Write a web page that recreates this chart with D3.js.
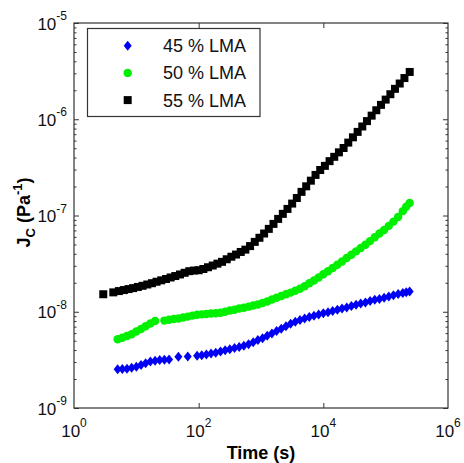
<!DOCTYPE html>
<html>
<head>
<meta charset="utf-8">
<script src="https://d3js.org/d3.v7.min.js"></script>
<style>
  body { margin: 0; background: #fff; }
  text { font-family: "Liberation Sans", Arial, sans-serif; }
</style>
</head>
<body>
<svg id="chart" width="464" height="463"></svg>
<script>
// creep compliance J_C (Pa^-1) vs time (s)
const t45 = [5.01, 5.96, 7.08, 8.41, 10.0, 11.9, 14.1, 16.8, 20.0, 23.7, 28.2, 33.5, 47.3, 66.8, 94.4,
  112, 133, 158, 188, 224, 266, 316, 376, 447, 531, 631, 750, 891, 1059, 1259, 1496, 1778, 2113, 2512,
  2985, 3548, 4217, 5012, 5957, 7079, 8414, 10000, 11885, 14125, 16788, 19953, 23714, 28184, 33497,
  39811, 47315, 56234, 66834, 79433, 94406, 112202, 133352, 158489, 188365, 213796, 242661];
const j45 = [2.52e-9, 2.54e-9, 2.56e-9, 2.62e-9, 2.69e-9, 2.79e-9, 2.91e-9, 3.04e-9, 3.09e-9, 3.15e-9,
  3.17e-9, 3.19e-9, 3.40e-9, 3.43e-9, 3.50e-9, 3.54e-9, 3.60e-9, 3.68e-9, 3.76e-9, 3.86e-9, 3.97e-9,
  4.08e-9, 4.19e-9, 4.30e-9, 4.44e-9, 4.59e-9, 4.83e-9, 5.08e-9, 5.32e-9, 5.63e-9, 5.94e-9, 6.30e-9,
  6.67e-9, 7.08e-9, 7.51e-9, 7.86e-9, 8.21e-9, 8.51e-9, 8.80e-9, 9.08e-9, 9.36e-9, 9.64e-9, 9.89e-9,
  1.02e-8, 1.05e-8, 1.08e-8, 1.11e-8, 1.15e-8, 1.18e-8, 1.22e-8, 1.25e-8, 1.29e-8, 1.33e-8, 1.36e-8,
  1.40e-8, 1.44e-8, 1.48e-8, 1.53e-8, 1.57e-8, 1.59e-8, 1.62e-8];

const t50 = [5.01, 5.96, 7.08, 8.41, 10.0, 11.9, 14.1, 16.8, 20.0, 28.2, 33.5, 39.8, 47.3, 56.2, 66.8,
  79.4, 94.4, 112, 133, 158, 188, 224, 266, 316, 376, 447, 531, 631, 750, 891, 1059, 1259, 1496, 1778,
  2113, 2512, 2985, 3548, 4217, 5012, 5957, 7079, 8414, 10000, 11885, 14125, 16788, 19953, 23714, 28184,
  33497, 39811, 47315, 56234, 66834, 79433, 94406, 112202, 133352, 158489, 188365, 213796, 242661];
const j50 = [5.17e-9, 5.37e-9, 5.60e-9, 5.85e-9, 6.23e-9, 6.63e-9, 7.08e-9, 7.55e-9, 8.02e-9, 8.09e-9,
  8.25e-9, 8.41e-9, 8.49e-9, 8.72e-9, 8.90e-9, 9.12e-9, 9.30e-9, 9.39e-9, 9.48e-9, 9.57e-9, 9.66e-9,
  9.75e-9, 9.99e-9, 1.03e-8, 1.05e-8, 1.08e-8, 1.10e-8, 1.13e-8, 1.16e-8, 1.19e-8, 1.23e-8, 1.28e-8,
  1.34e-8, 1.40e-8, 1.46e-8, 1.52e-8, 1.58e-8, 1.65e-8, 1.73e-8, 1.84e-8, 1.98e-8, 2.11e-8, 2.27e-8,
  2.45e-8, 2.64e-8, 2.85e-8, 3.08e-8, 3.33e-8, 3.61e-8, 3.91e-8, 4.24e-8, 4.59e-8, 4.97e-8, 5.42e-8,
  5.95e-8, 6.49e-8, 7.07e-8, 7.80e-8, 8.64e-8, 9.65e-8, 1.11e-7, 1.23e-7, 1.35e-7];

const t55 = [2.95, 4.27, 5.25, 6.31, 7.50, 8.91, 10.6, 12.6, 15.0, 17.8, 21.1, 25.1, 29.9, 35.5, 42.2,
  50.1, 59.6, 70.8, 84.1, 100, 119, 141, 168, 200, 237, 282, 335, 398, 473, 562, 668, 794, 944, 1122,
  1334, 1585, 1884, 2239, 2661, 3162, 3758, 4467, 5309, 6310, 7499, 8913, 10593, 12589, 14962, 17783,
  21135, 25119, 29854, 35481, 42170, 50119, 59566, 70795, 84140, 100000, 119000, 141000, 168000, 200000, 243000];
const j55 = [1.52e-8, 1.59e-8, 1.64e-8, 1.68e-8, 1.72e-8, 1.76e-8, 1.81e-8, 1.86e-8, 1.92e-8, 1.98e-8,
  2.05e-8, 2.12e-8, 2.19e-8, 2.27e-8, 2.35e-8, 2.44e-8, 2.54e-8, 2.64e-8, 2.68e-8, 2.70e-8, 2.78e-8,
  2.90e-8, 3.02e-8, 3.16e-8, 3.30e-8, 3.51e-8, 3.73e-8, 3.93e-8, 4.18e-8, 4.42e-8, 4.81e-8, 5.32e-8,
  5.87e-8, 6.50e-8, 7.26e-8, 8.18e-8, 9.22e-8, 1.04e-7, 1.17e-7, 1.33e-7, 1.52e-7, 1.76e-7, 2.01e-7,
  2.30e-7, 2.64e-7, 2.97e-7, 3.28e-7, 3.67e-7, 4.07e-7, 4.53e-7, 5.03e-7, 5.72e-7, 6.49e-7, 7.39e-7,
  8.41e-7, 9.57e-7, 1.09e-6, 1.24e-6, 1.41e-6, 1.60e-6, 1.82e-6, 2.07e-6, 2.35e-6, 2.68e-6, 3.10e-6];

const seriesNames = ["45 % LMA", "50 % LMA", "55 % LMA"];
const xLabelTicks = [1e0, 1e2, 1e4, 1e6];
const yLabelTicks = [1e-9, 1e-8, 1e-7, 1e-6, 1e-5];

const svg = d3.select("#chart");
const m = { left: 74, right: 448, top: 23, bottom: 408 };

const x = d3.scaleLog().domain([1, 1e6]).range([m.left, m.right]);
const y = d3.scaleLog().domain([1e-9, 1e-5]).range([m.bottom, m.top]);

svg.append("rect").attr("width", 464).attr("height", 463).attr("fill", "#fff");

// marker shapes
const diamond = (cx, cy) => `M${cx},${cy - 5}L${cx + 4},${cy}L${cx},${cy + 5}L${cx - 4},${cy}Z`;
const square = d3.symbol().type(d3.symbolSquare).size(64);
const circle = d3.symbol().type(d3.symbolCircle).size(56);

const series = [
  { name: seriesNames[0], t: t45, j: j45, color: "#0000f5", shape: "diamond" },
  { name: seriesNames[1], t: t50, j: j50, color: "#00f000", shape: "circle" },
  { name: seriesNames[2], t: t55, j: j55, color: "#000000", shape: "square" }
];

function drawMarker(sel, s, cx, cy) {
  if (s.shape === "diamond") {
    sel.append("path").attr("d", diamond(cx, cy)).attr("fill", s.color);
  } else {
    sel.append("path")
      .attr("d", s.shape === "square" ? square() : circle())
      .attr("transform", `translate(${cx},${cy})`)
      .attr("fill", s.color);
  }
}

// data
const dataLayer = svg.append("g");
series.forEach(s => {
  const pts = s.t.map((t, i) => ({ t: t, j: s.j[i] }));
  const g = dataLayer.append("g");
  pts.forEach(p => drawMarker(g, s, x(p.t), y(p.j)));
});

// ticks (inward, on all four sides)
function tickAxis(axis, transform) {
  const g = svg.append("g").attr("transform", transform).call(axis);
  g.select(".domain").remove();
  g.selectAll(".tick line").attr("stroke", "#333").attr("stroke-width", 1);
  return g;
}
const yMinor = y.ticks().filter(v => !yLabelTicks.some(d => Math.abs(d - v) / d < 1e-6));
tickAxis(d3.axisRight(y).tickValues(yMinor).tickSize(2.5).tickFormat(""), `translate(${m.left},0)`);
tickAxis(d3.axisRight(y).tickValues(yLabelTicks).tickSize(5).tickFormat(""), `translate(${m.left},0)`);
tickAxis(d3.axisLeft(y).tickValues(yMinor).tickSize(2.5).tickFormat(""), `translate(${m.right},0)`);
tickAxis(d3.axisLeft(y).tickValues(yLabelTicks).tickSize(5).tickFormat(""), `translate(${m.right},0)`);
tickAxis(d3.axisTop(x).tickValues([1e2, 1e4]).tickSize(5).tickFormat(""), `translate(0,${m.bottom})`);
tickAxis(d3.axisBottom(x).tickValues([1e2, 1e4]).tickSize(5).tickFormat(""), `translate(0,${m.top})`);

// frame
svg.append("rect")
  .attr("x", m.left).attr("y", m.top)
  .attr("width", m.right - m.left).attr("height", m.bottom - m.top)
  .attr("fill", "none").attr("stroke", "#333").attr("stroke-width", 1.2);

// tick labels
const exp = v => Math.round(Math.log10(v));
svg.selectAll("text.ylab").data(yLabelTicks).join("text")
  .attr("class", "ylab")
  .attr("x", 67).attr("y", d => y(d) + 6.5)
  .attr("text-anchor", "end").attr("font-size", 17).attr("fill", "#111")
  .each(function (d) {
    const t = d3.select(this);
    t.append("tspan").text("10");
    t.append("tspan").attr("dy", -9.5).attr("font-size", 12).text(exp(d));
  });

svg.selectAll("text.xlab").data(xLabelTicks).join("text")
  .attr("class", "xlab")
  .attr("x", d => x(d)).attr("y", 437)
  .attr("text-anchor", "middle").attr("font-size", 17).attr("fill", "#111")
  .each(function (d) {
    const t = d3.select(this);
    t.append("tspan").text("10");
    t.append("tspan").attr("dy", -10).attr("font-size", 12).text(exp(d));
  });

// axis titles
svg.append("text")
  .attr("x", (m.left + m.right) / 2).attr("y", 459)
  .attr("text-anchor", "middle").attr("font-size", 18).attr("font-weight", "bold")
  .text("Time (s)");

const yt = svg.append("text")
  .attr("transform", `translate(30,${(m.top + m.bottom) / 2 - 3}) rotate(-90)`)
  .attr("text-anchor", "middle").attr("font-size", 18).attr("font-weight", "bold");
yt.append("tspan").text("J");
yt.append("tspan").attr("dy", 5).attr("font-size", 13).text("C");
yt.append("tspan").attr("dy", -5).text(" (Pa");
yt.append("tspan").attr("dy", -8).attr("font-size", 13).text("-1");
yt.append("tspan").attr("dy", 8).text(")");

// legend
const lg = svg.append("g");
lg.append("rect")
  .attr("x", 87.5).attr("y", 28.5).attr("width", 172.5).attr("height", 88)
  .attr("fill", "#fff").attr("stroke", "#333").attr("stroke-width", 1.2);
series.forEach((s, i) => {
  const cy = 45.7 + i * 27.2;
  drawMarker(lg, s, 127.7, cy);
  lg.append("text").attr("x", 163).attr("y", cy + 6.5)
    .attr("font-size", 18).attr("fill", "#111").text(s.name);
});
</script>
</body>
</html>
